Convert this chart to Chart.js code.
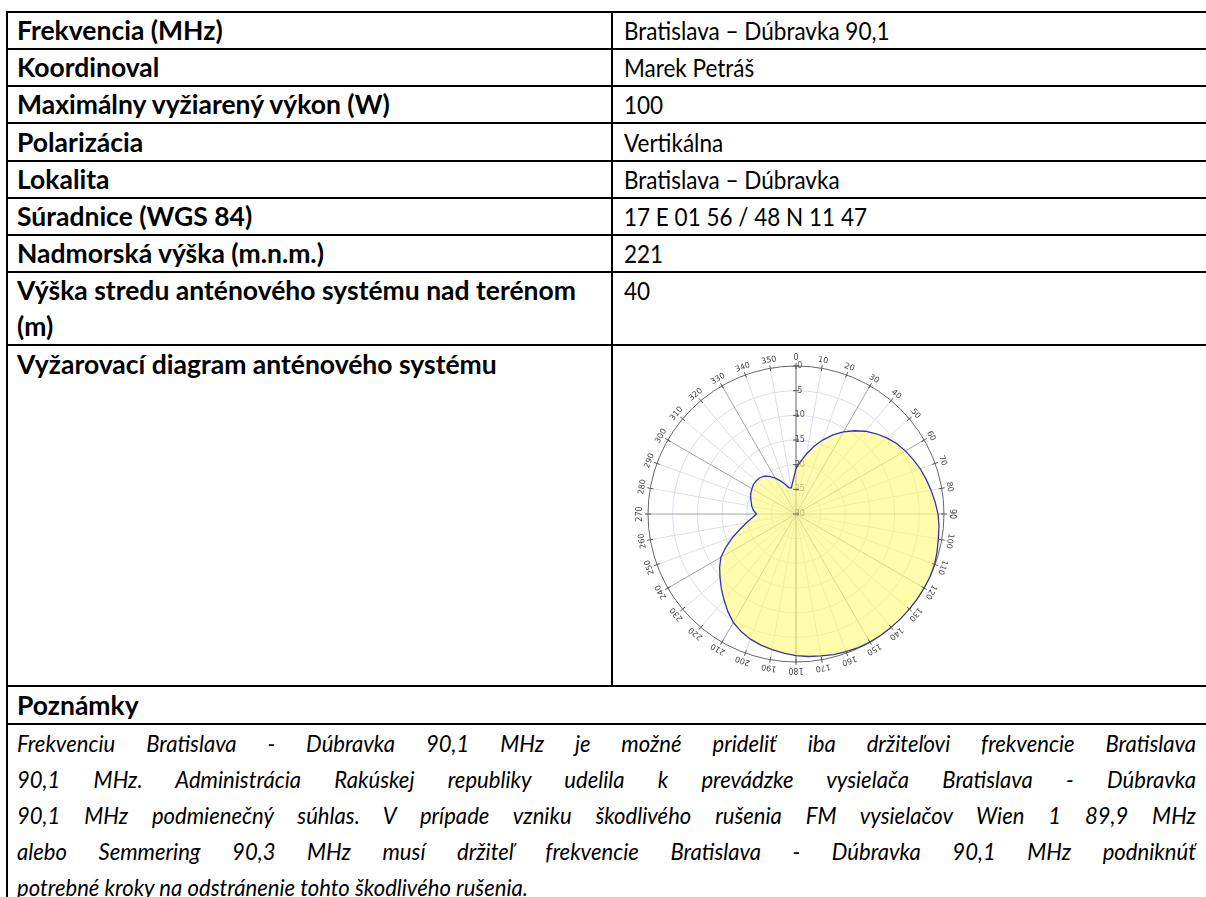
<!DOCTYPE html>
<html lang="sk">
<head>
<meta charset="utf-8">
<title>Bratislava – Dúbravka 90,1</title>
<script src="https://cdn.jsdelivr.net/npm/chart.js@4.4.1/dist/chart.umd.min.js"></script>
<style>
  html, body { margin:0; padding:0; background:#fff; }
  #page { position:relative; width:1206px; height:897px; overflow:hidden; font-family: Lato, "Open Sans", sans-serif; font-size:25px; color:#000; }
  .h { position:absolute; left:6px; width:1210px; height:2px; background:#000; }
  .v { position:absolute; width:2px; background:#000; }
  .t { position:absolute; white-space:nowrap; }
  .lab { left:17px; font-weight:bold; font-size:26.5px; }
  .val { left:624px; font-size:25px; transform:scaleX(0.9); transform-origin:0 0; }
  .note { position:absolute; left:17px; width:1281.5px; font-size:24px; font-style:italic; text-align:justify; text-align-last:justify; white-space:nowrap; transform:scaleX(0.92); transform-origin:0 0; }
  .note.last { text-align-last:left; }
  #diag { position:absolute; left:626px; top:344px; width:340px; height:340px; }
</style>
</head>
<body>
<div id="page">
  <!-- horizontal rules -->
  <div class="h" style="top:11px"></div>
  <div class="h" style="top:48px"></div>
  <div class="h" style="top:85px"></div>
  <div class="h" style="top:122px"></div>
  <div class="h" style="top:160px"></div>
  <div class="h" style="top:197px"></div>
  <div class="h" style="top:234px"></div>
  <div class="h" style="top:271px"></div>
  <div class="h" style="top:344px"></div>
  <div class="h" style="top:685px"></div>
  <div class="h" style="top:723px"></div>
  <!-- vertical rules -->
  <div class="v" style="left:6px; top:11px; height:900px"></div>
  <div class="v" style="left:611px; top:11px; height:676px"></div>

  <div class="t lab" style="top:13px; line-height:35px">Frekvencia (MHz)</div>
  <div class="t val" style="top:13px; line-height:35px">Bratislava – Dúbravka 90,1</div>
  <div class="t lab" style="top:50px; line-height:35px">Koordinoval</div>
  <div class="t val" style="top:50px; line-height:35px">Marek Petráš</div>
  <div class="t lab" style="top:87px; line-height:35px">Maximálny vyžiarený výkon (W)</div>
  <div class="t val" style="top:87px; line-height:35px">100</div>
  <div class="t lab" style="top:124px; line-height:36px">Polarizácia</div>
  <div class="t val" style="top:124px; line-height:36px">Vertikálna</div>
  <div class="t lab" style="top:162px; line-height:35px">Lokalita</div>
  <div class="t val" style="top:162px; line-height:35px">Bratislava – Dúbravka</div>
  <div class="t lab" style="top:199px; line-height:35px">Súradnice (WGS 84)</div>
  <div class="t val" style="top:199px; line-height:35px">17 E 01 56 / 48 N 11 47</div>
  <div class="t lab" style="top:236px; line-height:35px">Nadmorská výška (m.n.m.)</div>
  <div class="t val" style="top:236px; line-height:35px">221</div>
  <div class="t lab" style="top:273px; line-height:35.5px">Výška stredu anténového systému nad terénom<br>(m)</div>
  <div class="t val" style="top:273px; line-height:35.5px">40</div>
  <div class="t lab" style="top:346px; line-height:36px">Vyžarovací diagram anténového systému</div>
  <div id="diag"><canvas id="chart" width="340" height="340"></canvas></div>
  <div class="t lab" style="top:687px; line-height:36px">Poznámky</div>

  <div class="note" style="top:725px; line-height:36px">Frekvenciu Bratislava - Dúbravka 90,1 MHz je možné prideliť iba držiteľovi frekvencie Bratislava</div>
  <div class="note" style="top:761px; line-height:36px">90,1 MHz. Administrácia Rakúskej republiky udelila k prevádzke vysielača Bratislava - Dúbravka</div>
  <div class="note" style="top:797px; line-height:36px">90,1 MHz podmienečný súhlas. V prípade vzniku škodlivého rušenia FM vysielačov Wien 1 89,9 MHz</div>
  <div class="note" style="top:833px; line-height:36px">alebo Semmering 90,3 MHz musí držiteľ frekvencie Bratislava - Dúbravka 90,1 MHz podniknúť</div>
  <div class="note last" style="top:869px; line-height:36px">potrebné kroky na odstránenie tohto škodlivého rušenia.</div>
</div>

<script>
// Azimuth categories (degrees, clockwise from north)
const angleCategories = [0,5,10,15,20,25,30,35,40,45,50,55,60,65,70,75,80,85,
  90,95,100,105,110,115,120,125,130,135,140,145,150,155,160,165,170,175,
  180,185,190,195,200,205,210,215,220,225,230,235,240,245,250,255,260,265,
  270,275,280,285,290,295,300,305,310,315,320,325,330,335,340,345,350,355];

// Relative attenuation of the antenna pattern (dB, 0 = maximum)
const attenuationDb = [20.8,19.3,17.6,15.8,14.0,12.3,10.8,9.4,8.1,7.0,6.0,5.1,4.4,3.8,3.2,2.7,2.2,1.7,
  1.2,0.9,0.7,0.4,0.1,0.0,0.0,0.0,0.0,0.0,0.0,0.0,0.0,0.1,0.3,0.5,0.8,1.0,
  1.3,1.7,2.1,2.5,3.0,3.7,4.6,5.9,7.3,8.6,9.9,11.1,12.4,14.4,16.4,18.3,19.8,21.1,
  22.0,21.3,20.9,20.6,20.2,19.9,19.7,19.5,19.5,19.6,20.0,20.7,21.6,22.6,23.6,24.5,24.6,23.2];

// Tick labels
const angleTickLabels = ['0','10','20','30','40','50','60','70','80','90','100','110',
  '120','130','140','150','160','170','180','190','200','210','220','230',
  '240','250','260','270','280','290','300','310','320','330','340','350'];
const radialTickValues = [0,5,10,15,20,25,30];

const polarDecor = {
  id: 'polarDecor',
  afterDraw(chart) {
    const s = chart.scales.r;
    const ctx = chart.ctx;
    const R = s.drawingArea;
    ctx.save();
    ctx.strokeStyle = '#555';
    ctx.lineWidth = 1;
    angleTickLabels.forEach(lbl => {
      const i = angleCategories.indexOf(Number(lbl));
      const a = s.getPointPosition(i, R - 3), b = s.getPointPosition(i, R + 3);
      ctx.beginPath(); ctx.moveTo(a.x, a.y); ctx.lineTo(b.x, b.y); ctx.stroke();
    });
    radialTickValues.forEach(v => {
      const p = s.getPointPosition(0, s.getDistanceFromCenterForValue(v));
      ctx.beginPath(); ctx.moveTo(p.x - 3, p.y); ctx.lineTo(p.x + 3, p.y); ctx.stroke();
    });
    ctx.fillStyle = '#444';
    ctx.font = '8px "DejaVu Sans"';
    ctx.textAlign = 'center';
    ctx.textBaseline = 'middle';
    angleTickLabels.forEach(lbl => {
      const i = angleCategories.indexOf(Number(lbl));
      const p = s.getPointPosition(i, R + 8);
      ctx.save();
      ctx.translate(p.x, p.y);
      ctx.rotate(s.getIndexAngle(i));
      ctx.fillText(lbl, 0, 0);
      ctx.restore();
    });
    ctx.restore();
  }
};

new Chart(document.getElementById('chart'), {
  type: 'radar',
  data: {
    labels: angleCategories.map(String),
    datasets: [{
      data: attenuationDb,
      borderColor: '#3434a8',
      borderWidth: 1.3,
      backgroundColor: 'rgba(255,250,120,0.62)',
      fill: 'start',
      pointRadius: 0,
      tension: 0
    }]
  },
  options: {
    responsive: false,
    animation: false,
    devicePixelRatio: 1,
    layout: { padding: 16 },
    plugins: { legend: { display: false }, tooltip: { enabled: false } },
    scales: {
      r: {
        min: 0,
        max: 30,
        reverse: true,
        grid: {
          circular: true,
          color: c => (c.tick && c.tick.value === 0) ? '#666' : '#dcdcee',
          lineWidth: 1
        },
        angleLines: {
          color: c => {
            const a = angleCategories[c.index];
            if (a % 180 === 0) return '#666';
            if (a % 30 === 0) return '#a4a4a4';
            return '#dcdcee';
          },
          lineWidth: c => (angleCategories[c.index] % 10 === 0 ? 1 : 0)
        },
        pointLabels: { display: false },
        ticks: {
          stepSize: 5,
          showLabelBackdrop: false,
          color: '#555',
          font: { size: 8, family: 'DejaVu Sans' },
          callback: v => '\u00a0\u00a0\u00a0' + v
        }
      }
    }
  },
  plugins: [polarDecor]
});
</script>
</body>
</html>
